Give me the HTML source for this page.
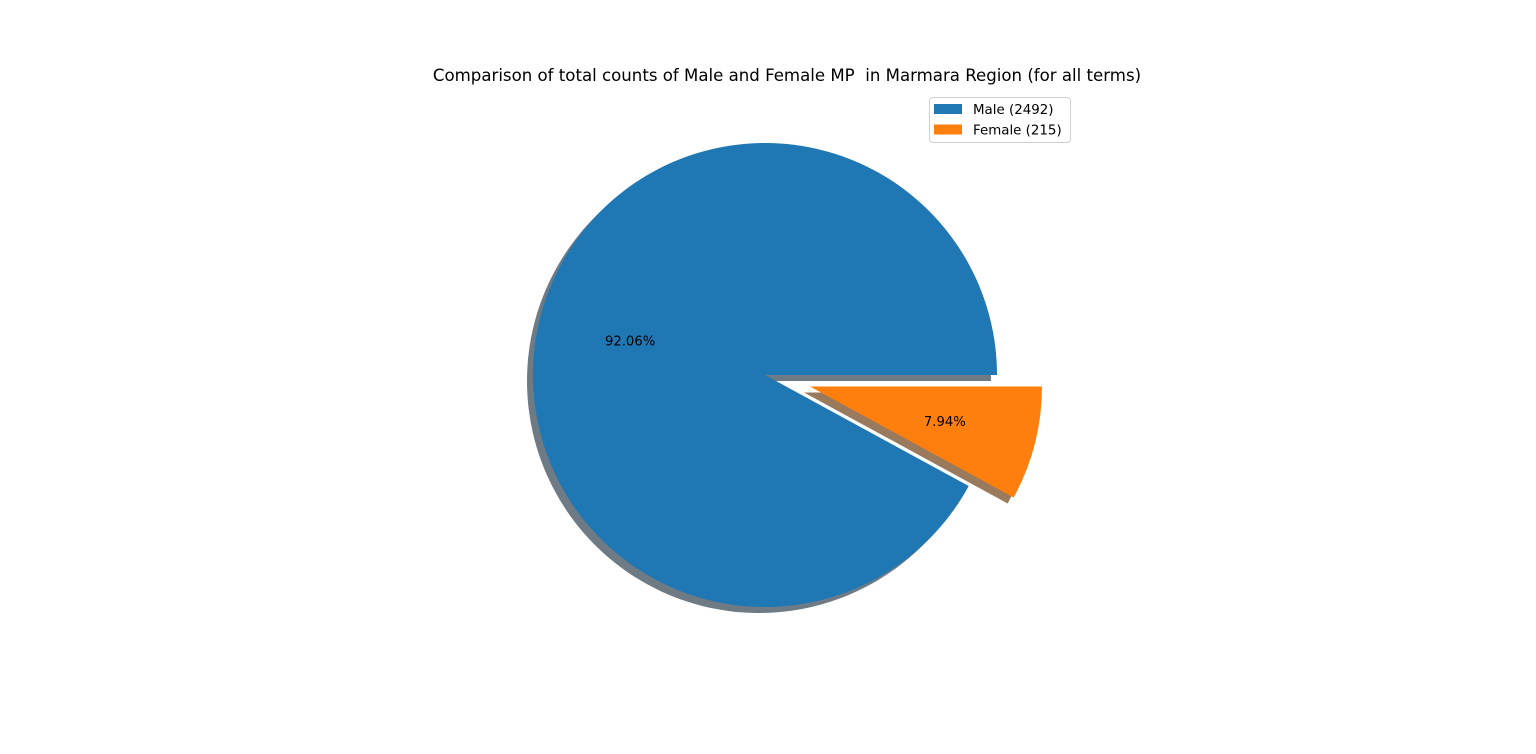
<!DOCTYPE html>
<html>
<head>
<meta charset="utf-8">
<style>
  html, body { margin: 0; padding: 0; background: #fff; }
  svg { display: block; font-family: "DejaVu Sans", "Liberation Sans", sans-serif; }
  text { white-space: pre; }
</style>
</head>
<body>
<svg id="chart" width="1536" height="754" viewBox="0 0 1536 754" xmlns="http://www.w3.org/2000/svg">
  <rect x="0" y="0" width="1536" height="754" fill="#ffffff"/>
  <text x="787" y="81" text-anchor="middle" font-size="16.6" fill="#000" xml:space="preserve">Comparison of total counts of Male and Female MP  in Marmara Region (for all terms)</text>
  <g id="shadows"></g>
  <g id="slices"></g>
  <g id="labels"></g>
  <g id="legend"></g>
</svg>
<script>
const categories = ["Male", "Female"];
const counts = [2492, 215];
const explode = [0, 0.2];
const colors = ["#1f77b4", "#ff7f0e"];
const shadowColors = ["#6e7b85", "#9a7a5c"];

const cx = 765, cy = 375, R = 232;
const shOff = [-6, 6];
const NS = "http://www.w3.org/2000/svg";
const total = counts.reduce((a, b) => a + b, 0);

function pt(x0, y0, r, deg) {
  const a = deg * Math.PI / 180;
  return [x0 + r * Math.cos(a), y0 - r * Math.sin(a)];
}
function wedge(x0, y0, r, a0, a1) {
  const p0 = pt(x0, y0, r, a0), p1 = pt(x0, y0, r, a1);
  const large = (a1 - a0) > 180 ? 1 : 0;
  return `M${x0},${y0} L${p0[0]},${p0[1]} A${r},${r} 0 ${large} 0 ${p1[0]},${p1[1]} Z`;
}

const shG = document.getElementById("shadows");
const slG = document.getElementById("slices");
const lbG = document.getElementById("labels");
let start = 0;
counts.forEach((v, i) => {
  const sweep = v / total * 360;
  const a0 = start, a1 = start + sweep, mid = (a0 + a1) / 2;
  const off = pt(0, 0, explode[i] * R, mid);
  const x0 = cx + off[0], y0 = cy + off[1];

  const sh = document.createElementNS(NS, "path");
  sh.setAttribute("d", wedge(x0 + shOff[0], y0 + shOff[1], R, a0, a1));
  sh.setAttribute("fill", shadowColors[i]);
  
  
  shG.appendChild(sh);

  const p = document.createElementNS(NS, "path");
  p.setAttribute("d", wedge(x0, y0, R, a0, a1));
  p.setAttribute("fill", colors[i]);
  
  
  slG.appendChild(p);

  const lp = pt(x0, y0, 0.6 * R, mid);
  const t = document.createElementNS(NS, "text");
  t.setAttribute("x", lp[0]);
  t.setAttribute("y", lp[1] + 5);
  t.setAttribute("text-anchor", "middle");
  t.setAttribute("font-size", "13.2");
  t.textContent = (v / total * 100).toFixed(2) + "%";
  
  
  lbG.appendChild(t);
  start = a1;
});

const lg = document.getElementById("legend");
const box = document.createElementNS(NS, "rect");
box.setAttribute("x", 929.5); box.setAttribute("y", 97.5);
box.setAttribute("width", 141); box.setAttribute("height", 45);
box.setAttribute("rx", 3);
box.setAttribute("fill", "#fff"); box.setAttribute("stroke", "#d0d0d0");


lg.appendChild(box);
categories.forEach((c, i) => {
  const y = 104 + i * 20.5;
  const sw = document.createElementNS(NS, "rect");
  sw.setAttribute("x", 934); sw.setAttribute("y", y);
  sw.setAttribute("width", 28); sw.setAttribute("height", 10);
  sw.setAttribute("fill", colors[i]);
  
  
  lg.appendChild(sw);
  const t = document.createElementNS(NS, "text");
  t.setAttribute("x", 973); t.setAttribute("y", y + 10);
  t.setAttribute("font-size", "13.4");
  t.textContent = c + " (" + counts[i] + ")";
  
  
  lg.appendChild(t);
});
</script>
</body>
</html>
